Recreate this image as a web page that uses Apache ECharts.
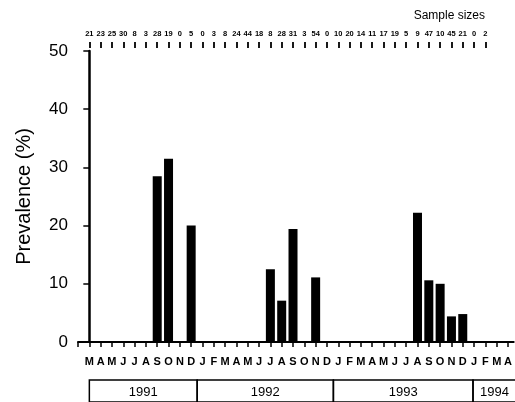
<!DOCTYPE html>
<html>
<head>
<meta charset="utf-8">
<script src="https://cdn.jsdelivr.net/npm/echarts@6/dist/echarts.min.js"></script>
<style>
  html, body { margin: 0; padding: 0; background: #fff; }
  #chart { width: 515px; height: 402px; }
</style>
</head>
<body>
<div id="chart"></div>
<script>
// months from Mar 1991 to Apr 1994
var monthLabels = ['M','A','M','J','J','A','S','O','N','D',
  'J','F','M','A','M','J','J','A','S','O','N','D',
  'J','F','M','A','M','J','J','A','S','O','N','D',
  'J','F','M','A'];
// sample sizes shown along the top (none for Mar/Apr 1994)
var sampleSizes = [21,23,25,30,8,3,28,19,0,5,
  0,3,8,24,44,18,8,28,31,3,54,0,
  10,20,14,11,17,19,5,9,47,10,45,21,
  0,2];
// prevalence (%) per month
var prevalence = [0,0,0,0,0,0,28.5,31.5,null,20,
  null,0,0,0,0,0,12.5,7.1,19.4,0,11.1,null,
  0,0,0,0,0,0,0,22.2,10.6,10,4.4,4.8,
  null,0,null,null];
var yTicks = [0, 10, 20, 30, 40, 50];
// year boxes under the month labels (in month index units)
var years = ['1991', '1992', '1993', '1994'];
var yearStart = [0, 9.5, 21.5, 33.8];
var yearEnd = [9.5, 21.5, 33.8, 37.6];

var font = '"Liberation Sans", Arial, Helvetica, sans-serif';

var barData = prevalence.map(function (v, i) { return [i, v]; });
var yearData = years.map(function (y, i) { return [yearStart[i], yearEnd[i]]; });
var labelIdx = monthLabels.map(function (m, i) { return i; });
var topIdx = sampleSizes.map(function (s, i) { return i; });

var myChart = echarts.init(document.getElementById('chart'));

var option = {
  animation: false,
  title: {
    text: 'Sample sizes',
    right: 25,
    top: 5,
    textStyle: { fontFamily: font, fontSize: 12, fontWeight: 'normal', color: '#000' }
  },
  grid: [
    { left: 78, right: 0, top: 51, bottom: 60 },
    { left: 78, right: 0, top: 380, height: 30 }
  ],
  xAxis: [
    {
      type: 'value', gridIndex: 0, min: -1, max: 37.5, interval: 1,
      splitLine: { show: false },
      axisLine: { lineStyle: { color: '#000', width: 2 } },
      axisTick: { length: 5, customValues: [-1].concat(labelIdx), lineStyle: { color: '#000', width: 1.5 } },
      axisLabel: {
        customValues: labelIdx,
        margin: 14,
        color: '#000', fontFamily: font, fontSize: 11, fontWeight: 'bold',
        formatter: function (v) { return monthLabels[v] !== undefined ? monthLabels[v] : ''; }
      }
    },
    {
      // sample sizes along the top
      type: 'value', gridIndex: 0, position: 'top', offset: 3,
      min: -1, max: 37.5, interval: 1,
      splitLine: { show: false },
      axisLine: { show: false },
      axisTick: { length: 6, customValues: topIdx, lineStyle: { color: '#000', width: 1.8 } },
      axisLabel: {
        customValues: topIdx,
        margin: 10,
        color: '#000', fontFamily: font, fontSize: 7.5, fontWeight: 'bold',
        formatter: function (v) { return sampleSizes[v] !== undefined ? String(sampleSizes[v]) : ''; }
      }
    },
    {
      type: 'value', gridIndex: 1, min: -1, max: 37.5, show: false
    }
  ],
  yAxis: [
    {
      type: 'value', gridIndex: 0, min: 0, max: 50, interval: 10,
      name: 'Prevalence (%)', nameLocation: 'middle', nameGap: 44,
      nameTextStyle: { fontFamily: font, fontSize: 20, color: '#000' },
      splitLine: { show: false },
      axisLine: { show: true, lineStyle: { color: '#000', width: 2.5 } },
      axisTick: { show: true, length: 6, lineStyle: { color: '#000', width: 1.5 } },
      axisLabel: {
        margin: 10, color: '#000', fontFamily: font, fontSize: 17,
        formatter: function (v) { return yTicks.indexOf(v) >= 0 ? String(v) : ''; }
      }
    },
    { type: 'value', gridIndex: 1, min: 0, max: 1, show: false }
  ],
  series: [
    {
      type: 'bar',
      xAxisIndex: 0, yAxisIndex: 0,
      barWidth: 9,
      itemStyle: { color: '#000' },
      data: barData
    },
    {
      type: 'custom',
      xAxisIndex: 2, yAxisIndex: 1,
      clip: false,
      data: yearData,
      renderItem: function (params, api) {
        var p0 = api.coord([api.value(0), 0]);
        var p1 = api.coord([api.value(1), 1]);
        return {
          type: 'group',
          children: [
            {
              type: 'rect',
              shape: { x: p0[0], y: p1[1], width: p1[0] - p0[0], height: p0[1] - p1[1] },
              style: { fill: 'none', stroke: '#000', lineWidth: 1.5 }
            },
            {
              type: 'text',
              style: {
                text: years[params.dataIndex],
                x: (p0[0] + p1[0]) / 2, y: p1[1] + 12,
                align: 'center', verticalAlign: 'middle',
                fontFamily: font, fontSize: 13, fill: '#000'
              }
            }
          ]
        };
      }
    }
  ]
};

myChart.setOption(option);
</script>
</body>
</html>
